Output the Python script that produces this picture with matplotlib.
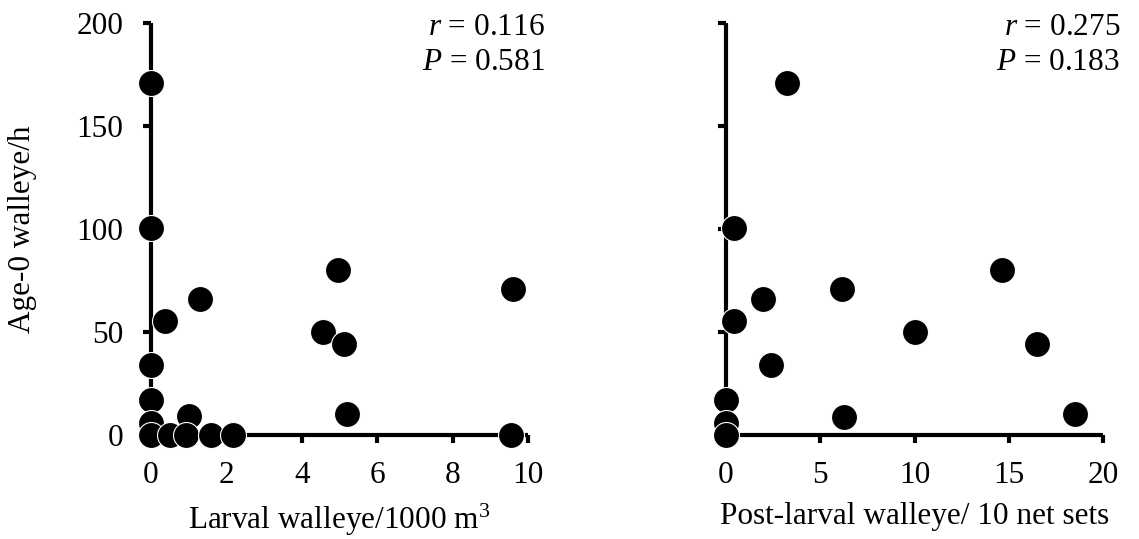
import matplotlib
matplotlib.use("Agg")
import matplotlib.pyplot as plt

plt.rcParams['font.family'] = ['Liberation Serif', 'DejaVu Serif']
plt.rcParams['mathtext.fontset'] = 'custom'
plt.rcParams['mathtext.rm'] = 'Liberation Serif'
plt.rcParams['mathtext.it'] = 'Liberation Serif:italic'

FS = 22.5

# age-0 walleye catch rate (per hour), shared by both panels
age0_left = [171, 100.5, 80, 71, 66, 55.5, 50, 44, 34, 17, 9, 10, 6, 0, 0, 0, 0, 0, 0]
larval = [0, 0, 4.97, 9.61, 1.31, 0.38, 4.56, 5.13, 0, 0, 1.0, 5.19, 0, 0, 0.49, 0.94, 1.6, 2.17, 9.55]

age0_right = [171, 100.5, 80, 71, 66, 55.5, 50, 44, 34, 17, 8.6, 10, 6, 0]
post_larval = [3.22, 0.44, 14.66, 6.18, 1.94, 0.44, 10.04, 16.48, 2.4, 0, 6.25, 18.5, 0, 0]

stats_left = ("0.116", "0.581")
stats_right = ("0.275", "0.183")

fig = plt.figure(figsize=(11.39, 5.39), dpi=100)
ax1 = fig.add_axes([0.1326, 0.1929, 0.3310, 0.7644])
ax2 = fig.add_axes([0.6374, 0.1929, 0.3310, 0.7644])


def style_axes(ax, xmax, xticks, show_ylabels):
    ax.set_xlim(0, xmax)
    ax.set_ylim(0, 200)
    ax.set_xticks(xticks)
    ax.set_yticks([0, 50, 100, 150, 200])
    for side in ('top', 'right'):
        ax.spines[side].set_visible(False)
    for side in ('left', 'bottom'):
        ax.spines[side].set_linewidth(3)
        ax.spines[side].set_capstyle('butt')
    ax.tick_params(axis='both', direction='out', length=6, width=3, labelsize=FS)
    ax.tick_params(axis='x', pad=13)
    ax.tick_params(axis='y', pad=14)
    if not show_ylabels:
        ax.set_yticklabels([])


def add_stats(ax, r, p):
    ax.text(1.045, 0.971, "$r$ = " + r, transform=ax.transAxes, ha='right', va='baseline', fontsize=FS)
    ax.text(1.045, 0.886, "$P$ = " + p, transform=ax.transAxes, ha='right', va='baseline', fontsize=FS)


ax1.scatter(larval, age0_left, s=350, c='black', edgecolors='white', linewidths=0.8, zorder=5, clip_on=False)
style_axes(ax1, 10, [0, 2, 4, 6, 8, 10], True)
ax1.set_xlabel("Larval walleye/1000 m$^3$", fontsize=FS, labelpad=8)
ax1.set_ylabel("Age-0 walleye/h", fontsize=FS, labelpad=28)
add_stats(ax1, *stats_left)

ax2.scatter(post_larval, age0_right, s=350, c='black', edgecolors='white', linewidths=0.8, zorder=5, clip_on=False)
style_axes(ax2, 20, [0, 5, 10, 15, 20], False)
ax2.set_xlabel("Post-larval walleye/ 10 net sets", fontsize=FS, labelpad=8)
add_stats(ax2, *stats_right)

fig.savefig("out.png", dpi=100)
